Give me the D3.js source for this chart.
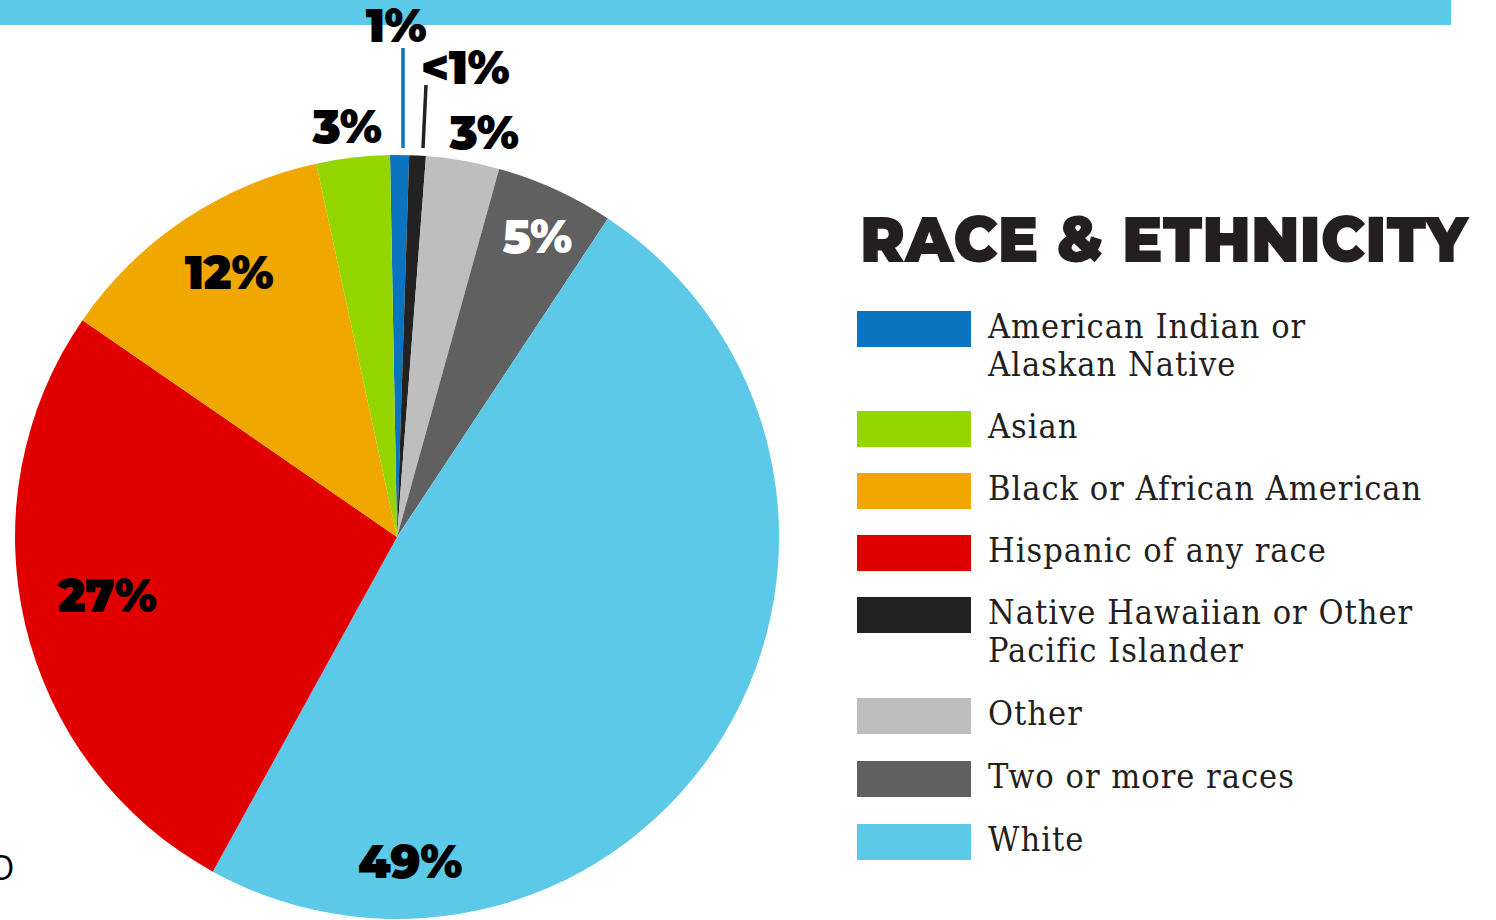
<!DOCTYPE html>
<html>
<head>
<meta charset="utf-8">
<script src="https://cdn.jsdelivr.net/npm/d3@7"></script>
<style>
  body { margin: 0; background: #ffffff; overflow: hidden; }
</style>
</head>
<body>
<script>
// Race & ethnicity shares, clockwise from the top of the pie.
const categories = ['American Indian or Alaskan Native', 'Native Hawaiian or Other Pacific Islander', 'Other', 'Two or more races', 'White', 'Hispanic of any race', 'Black or African American', 'Asian'];
const shares = [0.8, 0.7, 3.1, 5.0, 48.7, 26.6, 12.0, 3.1];
const shareLabels = ['1%', '<1%', '3%', '5%', '49%', '27%', '12%', '3%'];
const colors = ['#0A74C0', '#222222', '#BEBEBE', '#606060', '#5BC9E7', '#E00000', '#F0A800', '#95D600'];

// Legend order and line breaks.
const legendKeys = ['American Indian or Alaskan Native', 'Asian', 'Black or African American', 'Hispanic of any race', 'Native Hawaiian or Other Pacific Islander', 'Other', 'Two or more races', 'White'];
const legendLines = [['American Indian or', 'Alaskan Native'], ['Asian'], ['Black or African American'], ['Hispanic of any race'], ['Native Hawaiian or Other', 'Pacific Islander'], ['Other'], ['Two or more races'], ['White']];

const size = {width: 1496, height: 920};
const pieCenter = {x: 397, y: 537};
const radius = 382;

const svg = d3.select('body')
      .append('svg')
      .attr('width', size.width)
      .attr('height', size.height);

// Top band.
svg.append('rect')
  .attr('x', 0).attr('y', 0)
  .attr('width', 1451).attr('height', 25)
  .style('fill', '#5BC9E7');

const colorOf = d3.scaleOrdinal().domain(categories).range(colors);

const pie = d3.pie()
      .sort(null)
      .value((d) => d.value)
      .startAngle(-1.05 * Math.PI / 180)
      .endAngle(2 * Math.PI - 1.05 * Math.PI / 180);

const arcs = pie(categories.map((c, i) => ({name: c, value: shares[i], label: shareLabels[i]})));
const arc = d3.arc().innerRadius(0).outerRadius(radius);

const g = svg.append('g')
      .attr('transform', 'translate(' + pieCenter.x + ',' + pieCenter.y + ')');

g.selectAll('path')
  .data(arcs)
  .enter()
  .append('path')
  .attr('d', arc)
  .style('fill', (d) => colorOf(d.data.name));

// Label placement relative to the pie centre; small slices get callouts.
const labelFont = 'Montserrat, Lato, "DejaVu Sans", sans-serif';
const labelSpots = {
  'American Indian or Alaskan Native': {pos: [-1, -511], line: [[6, -489], [6, -389]], stroke: '#0A74C0'},
  'Native Hawaiian or Other Pacific Islander': {pos: [68, -469], line: [[29, -452], [26, -389]], stroke: '#222222'},
  'Other': {pos: [87, -404]},
  'Two or more races': {pos: [140, -300], color: '#ffffff'},
  'White': {pos: [13, 325]},
  'Hispanic of any race': {pos: [-290, 59]},
  'Black or African American': {pos: [-168, -264]},
  'Asian': {pos: [-50, -410]}
};

arcs.forEach((d) => {
  const cfg = labelSpots[d.data.name];
  if (cfg.line) {
    g.append('line')
      .attr('x1', cfg.line[0][0]).attr('y1', cfg.line[0][1])
      .attr('x2', cfg.line[1][0]).attr('y2', cfg.line[1][1])
      .style('stroke', cfg.stroke)
      .style('stroke-width', 3.5);
  }
  g.append('text')
    .attr('x', cfg.pos[0])
    .attr('y', cfg.pos[1])
    .attr('dy', '0.35em')
    .attr('text-anchor', 'middle')
    .style('font-family', labelFont)
    .style('font-weight', 900)
    .style('font-size', '46px')
    .style('letter-spacing', '-0.5px')
    .style('fill', cfg.color || '#000000')
    .text(d.data.label);
});

// Legend title, squeezed to the reference width.
const title = svg.append('text')
  .attr('x', 860)
  .attr('y', 262)
  .style('font-family', labelFont)
  .style('font-weight', 900)
  .style('font-size', '64px')
  .style('fill', '#231F20')
  .text('RACE & ETHNICITY');
const titleWidth = title.node().getComputedTextLength();
if (titleWidth > 608) {
  title.attr('transform', 'translate(860,0) scale(' + (608 / titleWidth) + ',1) translate(-860,0)');
}

const legendTops = [311, 411, 473, 535, 597, 698, 761, 824];
const legend = svg.selectAll('g.legend-item')
      .data(legendKeys)
      .enter()
      .append('g')
      .attr('class', 'legend-item')
      .attr('transform', (d, i) => 'translate(857,' + legendTops[i] + ')');

legend.append('rect')
  .attr('width', 114)
  .attr('height', 36)
  .style('fill', (d) => colorOf(d));

legend.each(function (d, i) {
  const t = d3.select(this).append('text')
        .attr('x', 131)
        .attr('y', 27)
        .style('font-family', '"DejaVu Serif Condensed", "DejaVu Serif", serif')
        .style('font-size', '34px')
        .style('letter-spacing', '1px')
        .style('fill', '#231F20');
  legendLines[i].forEach((line, j) => {
    t.append('tspan')
      .attr('x', 131)
      .attr('dy', j === 0 ? 0 : 38)
      .text(line);
  });
});

// Clipped character at the left edge.
svg.append('text')
  .attr('x', -12)
  .attr('y', 880)
  .style('font-family', '"Open Sans", sans-serif')
  .style('font-size', '34px')
  .style('fill', '#000000')
  .text('O');
</script>
</body>
</html>
